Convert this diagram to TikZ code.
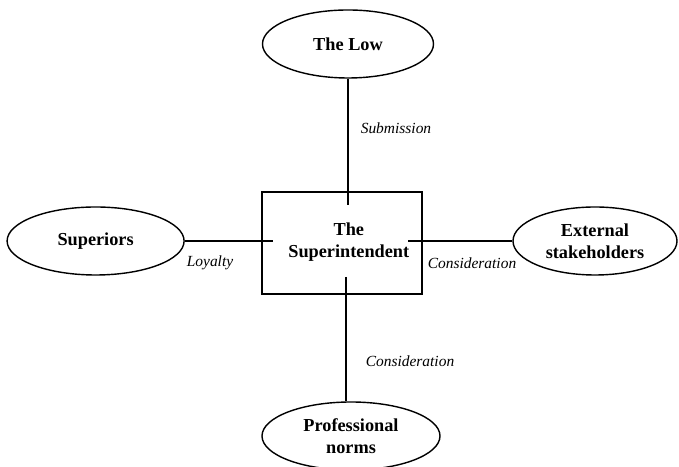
\documentclass[tikz,border=0pt]{standalone}
\usepackage{fontspec}
\setmainfont{Liberation Serif}
\usepackage{tikz}
\usetikzlibrary{shapes,positioning,calc}

\begin{document}
\begin{tikzpicture}[
    line width=1pt,
    actor/.style={ellipse, draw, inner sep=0pt, minimum width=4.3cm, minimum height=1.7cm, align=center, font=\fontsize{13}{15.6}\selectfont\bfseries},
    centrebox/.style={rectangle, draw, minimum width=4cm, minimum height=2.55cm, align=center, font=\fontsize{13}{15.6}\selectfont\bfseries},
    relation/.style={font=\fontsize{11}{13}\selectfont\itshape}
]
\useasboundingbox (0,0) rectangle (16.975,11.675);

% Centre
\node[centrebox] (supt) at (8.55, 5.6) {};
\node[font=\fontsize{13}{15.6}\selectfont\bfseries, align=center] (supttext) at (8.72, 5.63) {The\\Superintendent};

% Surrounding actors
\node[actor, minimum width=4.275cm] (low) at (8.7, 10.575) {The Low};
\node[actor, minimum width=4.425cm] (superiors) at (2.39, 5.65) {Superiors};
\node[actor, minimum width=4.1cm] (external) at (14.875, 5.65) {External\\stakeholders};
\node[actor, minimum width=4.45cm] (norms) at (8.775, 0.775) {Professional\\norms};

% Line ends inside the box
\coordinate (topin) at (8.7, 6.55);
\coordinate (leftin) at (6.825, 5.65);
\coordinate (rightin) at (10.2, 5.65);
\coordinate (bottomin) at (8.65, 4.75);

\draw (low.south -| topin) -- (topin);
\draw (superiors.east) -- (leftin);
\draw (rightin) -- (external.west);
\draw (bottomin) -- (bottomin |- norms.north);

% Relations
\node[relation] (submission) at (9.9, 8.475) {Submission};
\node[relation] (loyalty) at (5.25, 5.1) {Loyalty};
\node[relation] (consright) at (11.8, 5.1) {Consideration};
\node[relation] (consbottom) at (10.25, 2.65) {Consideration};

\end{tikzpicture}
\end{document}
